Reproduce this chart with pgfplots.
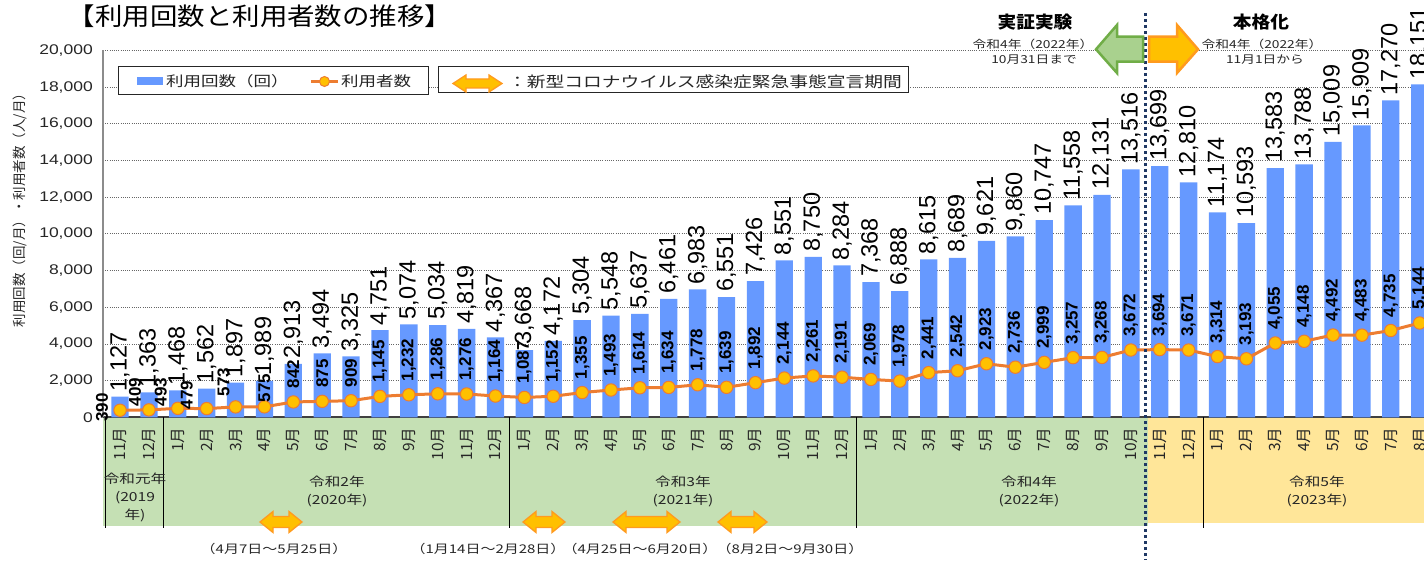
\documentclass[border=0pt]{standalone}
\usepackage{fontspec}
\setmainfont{Liberation Sans}
\newfontfamily\jp{Noto Sans CJK JP}
\usepackage{graphicx}
\usepackage{pgfplots}
\usepackage{pgfplotstable}
\pgfplotsset{compat=1.18}

\definecolor{barBlue}{HTML}{6699FF}
\definecolor{lineOrange}{HTML}{ED7D31}
\definecolor{markGold}{HTML}{FFC000}
\definecolor{tabGreen}{HTML}{C5E0B4}
\definecolor{tabYellow}{HTML}{FFE699}
\definecolor{navy}{HTML}{1F3864}
\definecolor{arGreenFill}{HTML}{A9D18E}
\definecolor{arGreenDraw}{HTML}{70AD47}
\definecolor{arOrangeDraw}{HTML}{FF9A1F}
\definecolor{ink}{HTML}{262626}

\newcommand{\fs}[1]{\fontsize{#1}{#1}\selectfont}
\newcommand{\wx}[2][1.25]{\scalebox{#1}[1]{#2}}
% double-headed block arrow: x1 x2 ycenter headhalf shafthalf
\newcommand{\darrow}[5]{%
  \filldraw[fill=markGold,draw=arOrangeDraw,line width=1.3pt,line join=miter]
  (#1,#3) -- ({#1+13},{#3-#4}) -- ({#1+13},{#3-#5}) -- ({#2-13},{#3-#5})
  -- ({#2-13},{#3-#4}) -- (#2,#3) -- ({#2-13},{#3+#4}) -- ({#2-13},{#3+#5})
  -- ({#1+13},{#3+#5}) -- ({#1+13},{#3+#4}) -- cycle;}

% monthly trips (bars)
\pgfplotstableread{
x trips
0 1127
1 1363
2 1468
3 1562
4 1897
5 1989
6 2913
7 3494
8 3325
9 4751
10 5074
11 5034
12 4819
13 4367
14 3668
15 4172
16 5304
17 5548
18 5637
19 6461
20 6983
21 6551
22 7426
23 8551
24 8750
25 8284
26 7368
27 6888
28 8615
29 8689
30 9621
31 9860
32 10747
33 11558
34 12131
35 13516
36 13699
37 12810
38 11174
39 10593
40 13583
41 13788
42 15009
43 15909
44 17270
45 18151
}\trips

% monthly users (line), label offsets in pt
\pgfplotstableread{
x users dx dy
0 390 -18 -12
1 409 -14 3
2 493 -17 1.5
3 479 -20 -1
4 573 -12 10
5 575 0 4
6 842 0 13
7 875 0 13
8 909 0 13
9 1145 0 13
10 1232 0 13
11 1286 0 13
12 1276 0 13
13 1164 0 13
14 1087 0 13
15 1152 0 13
16 1355 0 13
17 1493 0 13
18 1614 0 13
19 1634 0 13
20 1778 0 13
21 1639 0 13
22 1892 0 13
23 2144 0 13
24 2261 0 13
25 2191 0 13
26 2069 0 13
27 1978 0 13
28 2441 0 13
29 2542 0 13
30 2923 0 13
31 2736 0 13
32 2999 0 13
33 3257 0 13
34 3268 0 13
35 3672 0 13
36 3694 0 13
37 3671 0 13
38 3314 0 13
39 3193 0 13
40 4055 0 13
41 4148 0 13
42 4492 0 13
43 4483 0 13
44 4735 0 13
45 5144 0 13
}\users

\begin{document}
\begin{tikzpicture}
\path[use as bounding box] (0,0) rectangle (1424pt,560pt);
\clip (0,0) rectangle (1424pt,560pt);

% table background
\begin{scope}[x=1pt,y=-1pt,yshift=560pt]
  \fill[tabGreen] (103,417.4) rectangle (1148,526);
  \fill[tabYellow] (1148,417.4) rectangle (1424,523);
\end{scope}

\begin{axis}[
  at={(103pt,142.6pt)}, anchor=south west,
  width=1321pt, height=367pt, scale only axis,
  xmin=-0.59, xmax=45.15, ymin=0, ymax=20000,
  clip=false,
  axis x line*=bottom, axis y line*=left,
  x axis line style={line width=2pt, black!75},
  y axis line style={line width=1.2pt, black!45},
  major tick length=0pt,
  ytick={0,2000,...,20000},
  scaled y ticks=false,
  /pgf/number format/1000 sep={,},
  /pgf/number format/assume math mode=true,
  ymajorgrids,
  grid style={black!60, line width=0.9pt, dash pattern=on 1pt off 1.2pt},
  yticklabel={\wx{\pgfmathprintnumber{\tick}}},
  yticklabel style={font=\fs{14}, text=ink, anchor=east, inner sep=0pt, xshift=-10pt},
  xtick={0,...,45},
  xticklabels={11月,12月,1月,2月,3月,4月,5月,6月,7月,8月,9月,10月,11月,12月,
    1月,2月,3月,4月,5月,6月,7月,8月,9月,10月,11月,12月,
    1月,2月,3月,4月,5月,6月,7月,8月,9月,10月,11月,12月,
    1月,2月,3月,4月,5月,6月,7月,8月},
  xticklabel style={font=\jp\fs{15.5}, text=ink, rotate=90, anchor=east, inner sep=0pt},
  xticklabel shift=10pt,
]
\addplot[ybar, bar width=0.6, fill=barBlue, draw=none,
  nodes near coords={\pgfmathprintnumber{\pgfplotspointmeta}},
  every node near coord/.append style={font=\fs{23.5}, black,
    yshift=5pt, rotate=90, anchor=west, inner sep=0pt}]
  table[x=x, y=trips] {\trips};

\addplot[lineOrange, line width=3pt, mark=*, mark size=6.2pt,
  mark options={fill=markGold, draw=lineOrange, line width=1pt},
  visualization depends on={\thisrow{dx} \as \dx},
  visualization depends on={\thisrow{dy} \as \dy},
  nodes near coords={\pgfmathprintnumber{\pgfplotspointmeta}},
  every node near coord/.append style={font=\bfseries\fs{17}, black,
    xshift=\dx pt, yshift=\dy pt, rotate=90, anchor=west, inner sep=0pt}]
  table[x=x, y=users] {\users};
\end{axis}

\begin{scope}[x=1pt,y=-1pt,yshift=560pt]
  % separators in the month table
  \draw[black, line width=1pt] (105,417.4) -- (105,528);
  \foreach \sx in {163.4,509.9,856.5,1203.1}
    \draw[black, line width=1pt] (\sx,417.4) -- (\sx,528);
  % boundary between trial and full operation
  \draw[navy, line width=3pt, dash pattern=on 3pt off 3pt] (1145.3,13) -- (1145.3,560);

  % year labels
  \begin{scope}[every node/.style={font=\jp\fontsize{12.5}{18}\selectfont, text=ink, align=center}]
    \node at (135,497) {\wx{令和元年}\\\wx{(2019}\\\wx{年)}};
    \node at (337,491) {\wx{令和2年}\\\wx{(2020年)}};
    \node at (683,491) {\wx{令和3年}\\\wx{(2021年)}};
    \node at (1029,491) {\wx{令和4年}\\\wx{(2022年)}};
    \node at (1317,491) {\wx{令和5年}\\\wx{(2023年)}};
  \end{scope}

  % emergency periods
  \darrow{260}{302}{522}{10.5}{5.5}
  \darrow{523}{565}{522}{10.5}{5.5}
  \darrow{613}{680}{522}{10.5}{5.5}
  \darrow{718}{767}{522}{10.5}{5.5}
  \begin{scope}[every node/.style={font=\jp\fs{12}, text=ink}]
    \node at (274,549) {\wx{（4月7日～5月25日）}};
    \node at (488,549) {\wx{（1月14日～2月28日）}};
    \node at (640,549) {\wx{（4月25日～6月20日）}};
    \node at (790,549) {\wx{（8月2日～9月30日）}};
  \end{scope}

  % title and y label
  \node[font=\jp\fs{24.5}, text=black] at (260,16) {\wx[1.12]{【利用回数と利用者数の推移】}};
  \node[font=\jp\fs{13.5}, text=ink, rotate=90] at (20,207) {利用回数（回/月）・利用者数（人/月）};

  % legend 1
  \draw[fill=white, draw=black!85, line width=1pt] (118,67) rectangle (428,95);
  \fill[barBlue] (137,77) rectangle (163,85);
  \node[font=\jp\fs{14}, text=ink, anchor=west, inner sep=0pt] at (166,81) {\wx{利用回数（回）}};
  \draw[lineOrange, line width=2.5pt] (311,81.5) -- (338,81.5);
  \filldraw[fill=markGold, draw=lineOrange, line width=1pt] (324.5,81.5) circle (5);
  \node[font=\jp\fs{14}, text=ink, anchor=west, inner sep=0pt] at (341,81) {\wx{利用者数}};

  % legend 2
  \draw[fill=white, draw=black!85, line width=1pt] (438,67) rectangle (908,93);
  \darrow{453}{502}{83.5}{8.5}{4.5}
  \node[font=\jp\fs{15}, text=ink, anchor=west, inner sep=0pt] at (508,81.5) {\wx{：新型コロナウイルス感染症緊急事態宣言期間}};

  % trial / full operation annotation
  \filldraw[fill=arGreenFill, draw=arGreenDraw, line width=2.5pt, line join=miter]
    (1143,36.7) -- (1117,36.7) -- (1117,25) -- (1096,49.3) -- (1117,73) -- (1117,61.7) -- (1143,61.7) -- cycle;
  \filldraw[fill=markGold, draw=arOrangeDraw, line width=2.5pt, line join=miter]
    (1149,36.7) -- (1177,36.7) -- (1177,25) -- (1198,49.3) -- (1177,73) -- (1177,61.7) -- (1149,61.7) -- cycle;
  \node[font=\jp\bfseries\fs{17}, text=black] at (1035,22) {\wx[1.1]{実証実験}};
  \node[font=\jp\fs{11}, text=ink] at (1033,44) {\wx{令和4年（2022年）}};
  \node[font=\jp\fs{11}, text=ink] at (1034,60) {\wx{10月31日まで}};
  \node[font=\jp\bfseries\fs{17}, text=black] at (1261,22) {\wx[1.1]{本格化}};
  \node[font=\jp\fs{11}, text=ink] at (1262,44) {\wx{令和4年（2022年）}};
  \node[font=\jp\fs{11}, text=ink] at (1265,60) {\wx{11月1日から}};
\end{scope}
\end{tikzpicture}
\end{document}
